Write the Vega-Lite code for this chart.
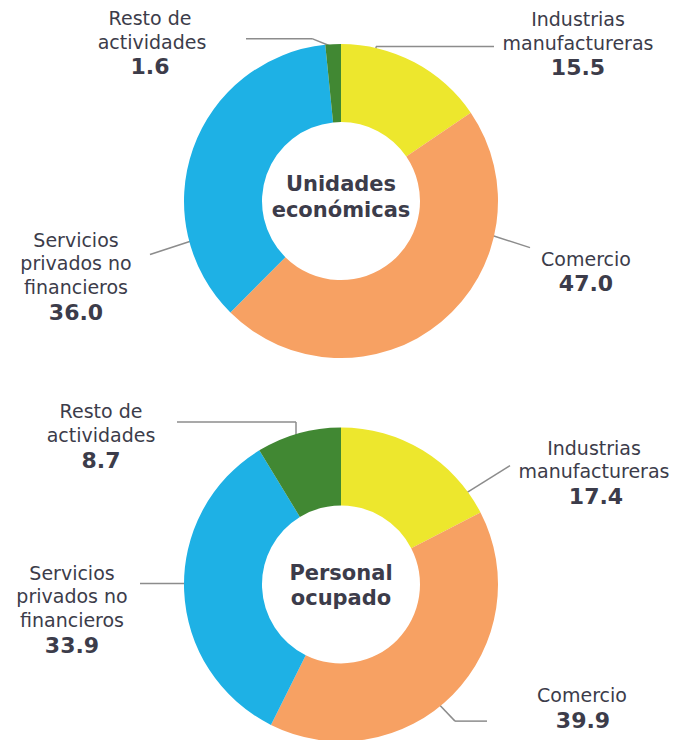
{
  "$schema": "https://vega.github.io/schema/vega-lite/v6.json",
  "width": 679,
  "height": 740,
  "autosize": {"type": "fit", "contains": "padding"},
  "padding": 0,
  "background": "white",
  "config": {"view": {"stroke": null}},
  "datasets": {
    "slices": [
      {"panel": "ue", "cat": "Industrias manufactureras", "val": 15.5, "ord": 1, "cx": 341, "cy": 203},
      {"panel": "ue", "cat": "Comercio", "val": 47.0, "ord": 2, "cx": 341, "cy": 203},
      {"panel": "ue", "cat": "Servicios privados no financieros", "val": 36.0, "ord": 3, "cx": 341, "cy": 203},
      {"panel": "ue", "cat": "Resto de actividades", "val": 1.6, "ord": 4, "cx": 341, "cy": 203},
      {"panel": "po", "cat": "Industrias manufactureras", "val": 17.4, "ord": 1, "cx": 341, "cy": 590},
      {"panel": "po", "cat": "Comercio", "val": 39.9, "ord": 2, "cx": 341, "cy": 590},
      {"panel": "po", "cat": "Servicios privados no financieros", "val": 33.9, "ord": 3, "cx": 341, "cy": 590},
      {"panel": "po", "cat": "Resto de actividades", "val": 8.7, "ord": 4, "cx": 341, "cy": 590}
    ],
    "leaders": [
      {"x": 246, "y": 39, "x2": 312, "y2": 39},
      {"x": 312, "y": 39, "x2": 334, "y2": 48},
      {"x": 376, "y": 47, "x2": 494, "y2": 47},
      {"x": 376, "y": 47, "x2": 376, "y2": 56},
      {"x": 490, "y": 237, "x2": 530, "y2": 250},
      {"x": 150, "y": 257, "x2": 192, "y2": 243},
      {"x": 177, "y": 426, "x2": 296, "y2": 426},
      {"x": 296, "y": 426, "x2": 296, "y2": 446},
      {"x": 464, "y": 499, "x2": 510, "y2": 470},
      {"x": 140, "y": 589, "x2": 188, "y2": 589},
      {"x": 437, "y": 709, "x2": 455, "y2": 728},
      {"x": 455, "y": 728, "x2": 487, "y2": 728}
    ],
    "centers": [
      {"x": 341, "y": 187, "t": "Unidades"},
      {"x": 341, "y": 213, "t": "económicas"},
      {"x": 341, "y": 579, "t": "Personal"},
      {"x": 341, "y": 605, "t": "ocupado"}
    ],
    "labels": [
      {"x": 150, "y": 19, "t": "Resto de", "kind": "name"},
      {"x": 152, "y": 43, "t": "actividades", "kind": "name"},
      {"x": 150, "y": 68, "t": "1.6", "kind": "value"},
      {"x": 578, "y": 20, "t": "Industrias", "kind": "name"},
      {"x": 578, "y": 44, "t": "manufactureras", "kind": "name"},
      {"x": 578, "y": 69, "t": "15.5", "kind": "value"},
      {"x": 586, "y": 262, "t": "Comercio", "kind": "name"},
      {"x": 586, "y": 287, "t": "47.0", "kind": "value"},
      {"x": 76, "y": 243, "t": "Servicios", "kind": "name"},
      {"x": 76, "y": 267, "t": "privados no", "kind": "name"},
      {"x": 76, "y": 291, "t": "financieros", "kind": "name"},
      {"x": 76, "y": 316, "t": "36.0", "kind": "value"},
      {"x": 101, "y": 416, "t": "Resto de", "kind": "name"},
      {"x": 101, "y": 440, "t": "actividades", "kind": "name"},
      {"x": 101, "y": 465, "t": "8.7", "kind": "value"},
      {"x": 594, "y": 453, "t": "Industrias", "kind": "name"},
      {"x": 594, "y": 477, "t": "manufactureras", "kind": "name"},
      {"x": 596, "y": 502, "t": "17.4", "kind": "value"},
      {"x": 72, "y": 579, "t": "Servicios", "kind": "name"},
      {"x": 72, "y": 603, "t": "privados no", "kind": "name"},
      {"x": 72, "y": 627, "t": "financieros", "kind": "name"},
      {"x": 72, "y": 652, "t": "33.9", "kind": "value"},
      {"x": 582, "y": 703, "t": "Comercio", "kind": "name"},
      {"x": 583, "y": 728, "t": "39.9", "kind": "value"}
    ]
  },
  "layer": [
    {
      "data": {"name": "leaders"},
      "mark": {"type": "rule", "color": "#8c8c8c", "strokeWidth": 1.5},
      "encoding": {
        "x": {"field": "x", "type": "quantitative", "scale": {"domain": [0, 679]}, "axis": null},
        "y": {"field": "y", "type": "quantitative", "scale": {"domain": [740, 0]}, "axis": null},
        "x2": {"field": "x2"},
        "y2": {"field": "y2"}
      }
    },
    {
      "data": {"name": "slices"},
      "transform": [
        {"stack": "val", "groupby": ["panel"], "sort": [{"field": "ord", "order": "ascending"}], "offset": "normalize", "as": ["t0", "t1"]}
      ],
      "mark": {"type": "arc", "outerRadius": 157, "innerRadius": 79},
      "encoding": {
        "x": {"field": "cx", "type": "quantitative", "scale": {"domain": [0, 679]}, "axis": null},
        "y": {"field": "cy", "type": "quantitative", "scale": {"domain": [740, 0]}, "axis": null},
        "theta": {"field": "t0", "type": "quantitative", "scale": {"domain": [0, 1], "range": [0, 6.283185307179586]}},
        "theta2": {"field": "t1"},
        "color": {
          "field": "cat",
          "type": "nominal",
          "scale": {
            "domain": ["Industrias manufactureras", "Comercio", "Servicios privados no financieros", "Resto de actividades"],
            "range": ["#EDE72D", "#F7A163", "#1EB1E5", "#418833"]
          },
          "legend": null
        }
      }
    },
    {
      "data": {"name": "centers"},
      "mark": {"type": "text", "font": "DejaVu Sans", "fontSize": 21, "fontWeight": "bold", "color": "#3c3c4a", "align": "center", "baseline": "middle"},
      "encoding": {
        "x": {"field": "x", "type": "quantitative", "scale": {"domain": [0, 679]}, "axis": null},
        "y": {"field": "y", "type": "quantitative", "scale": {"domain": [740, 0]}, "axis": null},
        "text": {"field": "t"}
      }
    },
    {
      "data": {"name": "labels"},
      "transform": [{"filter": "datum.kind === 'name'"}],
      "mark": {"type": "text", "font": "DejaVu Sans", "fontSize": 19, "color": "#3c3c4a", "align": "center", "baseline": "middle"},
      "encoding": {
        "x": {"field": "x", "type": "quantitative", "scale": {"domain": [0, 679]}, "axis": null},
        "y": {"field": "y", "type": "quantitative", "scale": {"domain": [740, 0]}, "axis": null},
        "text": {"field": "t"}
      }
    },
    {
      "data": {"name": "labels"},
      "transform": [{"filter": "datum.kind === 'value'"}],
      "mark": {"type": "text", "font": "DejaVu Sans", "fontSize": 22, "fontWeight": "bold", "color": "#3c3c4a", "align": "center", "baseline": "middle"},
      "encoding": {
        "x": {"field": "x", "type": "quantitative", "scale": {"domain": [0, 679]}, "axis": null},
        "y": {"field": "y", "type": "quantitative", "scale": {"domain": [740, 0]}, "axis": null},
        "text": {"field": "t"}
      }
    }
  ]
}
